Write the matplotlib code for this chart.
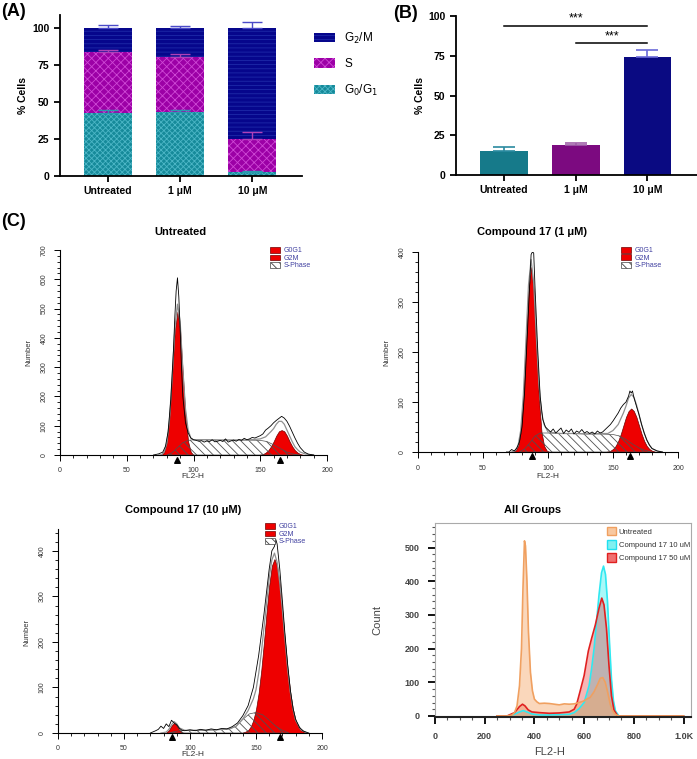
import numpy as np
import matplotlib.pyplot as plt
from matplotlib.patches import Patch
from matplotlib.ticker import MultipleLocator

plt.rcParams['font.family'] = ['Liberation Sans', 'DejaVu Sans']
plt.rcParams['hatch.linewidth'] = 0.6

# ---------------- data ----------------
# (A) cell cycle distribution, stacked %
groups = ['Untreated', '1 μM', '10 μM']
g0g1 = [42.8, 43.5, 2.5]
s_phase = [41.4, 37.1, 22.5]
g2m = [15.8, 19.4, 75.0]
g0g1_err = [1.8, 1.1, 0.7]
s_err = [0.9, 1.8, 4.5]
g2m_err = [2.5, 1.4, 4.5]

# (B) G2/M %
b_vals = [15.3, 19.1, 74.2]
b_err = [2.3, 1.2, 4.4]

# (C) ModFit histograms - Untreated
ut_data_x = [70, 74, 77, 79, 81, 83, 85, 86, 87, 88, 89, 90, 91, 92, 94, 96, 98, 100] + list(range(102, 181, 2)) + [183, 186, 190]
ut_data_y = [0, 4, 10, 30, 80, 190, 360, 470, 560, 605, 540, 430, 300, 200, 110, 75, 58, 52,
             50, 47, 49, 44, 48, 46, 52, 45, 47, 50, 46, 55, 44, 48, 51, 47, 53, 50, 57, 52,
             55, 60, 58, 62, 66, 72, 85, 92, 100, 110, 118, 125, 132, 126, 115, 98, 78, 58, 40, 25,
             10, 3, 0]
ut_fit_x = [74, 76, 78, 80, 82, 84, 86, 88, 90, 92, 94, 96, 98, 100, 110, 120, 130, 140, 150, 154, 158,
            160, 162, 164, 166, 168, 170, 172, 174, 176, 178, 180, 184, 190]
ut_fit_y = [0, 1, 10, 40, 120, 265, 430, 515, 455, 295, 158, 85, 58, 52, 52, 51, 51, 51, 55, 62, 80,
            90, 105, 115, 115, 105, 85, 65, 45, 28, 18, 10, 3, 0]
ut_g1_x = np.arange(76, 101, 2)
ut_g1_y = [0, 10, 45, 130, 275, 425, 490, 425, 275, 130, 45, 10, 0]
ut_g2_x = np.arange(146, 187, 2)
ut_g2_y = [0, 0, 1, 3, 8, 16, 29, 46, 66, 81, 85, 81, 66, 46, 29, 16, 8, 3, 1, 0, 0]
ut_s_x = [80, 84, 88, 92, 96, 100, 110, 120, 130, 140, 150, 155, 160, 165, 170, 175, 180]
ut_s_y = [0, 8, 25, 42, 50, 52, 52, 51, 51, 51, 50, 46, 35, 22, 10, 3, 0]
ut_marks = [88, 165]

# Compound 17 (1 uM)
c1_data_x = [68, 70, 72, 74, 76, 78, 80, 82, 84, 86, 87, 88, 89, 90, 92, 94, 96, 98, 100] + list(range(102, 161, 2)) + \
            [162, 163, 164, 165, 166, 168, 170, 172, 174, 176, 178, 180, 184, 188]
c1_data_y = [0, 0, 5, 2, 8, 20, 50, 120, 230, 340, 395, 400, 398, 330, 210, 110, 65, 50, 45,
             40, 46, 38, 43, 48, 37, 44, 40, 46, 36, 42, 39, 45, 38, 41, 37, 40, 36, 42, 38,
             40, 45, 50, 55, 62, 70, 78, 88, 95, 100,
             112, 122, 118, 122, 110, 92, 75, 55, 38, 24, 14, 7, 2, 0]
c1_fit_x = [72, 75, 77, 79, 81, 83, 85, 87, 89, 91, 93, 95, 97, 100, 110, 120, 130, 140, 146, 150, 154, 158,
            160, 162, 164, 166, 168, 170, 172, 174, 176, 178, 180, 184, 188]
c1_fit_y = [0, 3, 13, 43, 113, 222, 334, 385, 338, 232, 137, 80, 55, 40, 37, 37, 36, 37, 37, 43, 55, 78,
            92, 108, 115, 110, 95, 75, 55, 38, 24, 14, 7, 2, 0]
c1_g1_x = np.arange(73, 102, 2)
c1_g1_y = [0, 3, 12, 40, 107, 213, 322, 370, 322, 213, 107, 40, 12, 3, 0]
c1_g2_x = np.arange(144, 187, 2)
c1_g2_y = [0, 1, 2.5, 6, 12, 22, 36, 53, 70, 82, 87, 82, 70, 53, 36, 22, 12, 6, 2.5, 1, 0, 0]
c1_s_x = [78, 82, 86, 90, 94, 100, 110, 120, 130, 140, 150, 155, 160, 165, 170, 175, 180]
c1_s_y = [0, 6, 18, 32, 38, 38, 37, 37, 36, 36, 35, 32, 25, 16, 8, 3, 0]
c1_marks = [88, 163]

# Compound 17 (10 uM)
c10_data_x = [70, 74, 76, 78, 80, 82, 84, 86, 88, 90, 92, 94, 96, 100, 104, 108, 112, 116, 120, 124, 128, 132,
              136, 140, 144, 148, 152, 154, 156, 158, 160, 162, 164, 165, 166, 168, 170, 172, 174, 176, 178,
              180, 183, 186, 190]
c10_data_y = [0, 5, 8, 15, 10, 20, 14, 28, 22, 18, 10, 6, 5, 7, 5, 8, 6, 9, 7, 10, 9, 14,
              22, 38, 60, 100, 170, 215, 260, 310, 360, 400, 410, 425, 415, 360, 290, 215, 150, 95, 55,
              30, 12, 4, 0]
c10_fit_x = [78, 82, 84, 86, 88, 90, 92, 96, 100, 110, 120, 130, 135, 140, 144, 148, 150, 152, 154, 156, 158,
             160, 162, 164, 166, 168, 170, 172, 174, 176, 178, 180, 184, 188]
c10_fit_y = [0, 2, 8, 18, 25, 20, 11, 6, 6, 6, 7, 9, 15, 31, 49, 75, 95, 130, 175, 230, 285,
             340, 380, 395, 375, 330, 270, 205, 140, 90, 53, 28, 7, 1]
c10_g1_x = np.arange(80, 97, 2)
c10_g1_y = [0, 1, 6, 16, 22, 16, 6, 1, 0]
c10_g2_x = np.arange(140, 189, 2)
c10_g2_y = [1, 3, 6, 14, 28, 52, 88, 138, 199, 265, 324, 367, 382, 367, 324, 265, 199, 138, 88, 52, 28, 14, 6, 3, 1]
c10_s_x = [84, 88, 92, 100, 110, 120, 130, 135, 140, 145, 150, 155, 160, 165, 170, 175]
c10_s_y = [0, 3, 5, 6, 6, 7, 9, 15, 30, 42, 45, 40, 28, 15, 6, 0]
c10_marks = [86, 168]

# All groups overlay
ag_untreated_x = [250, 290, 310, 320, 330, 340, 348, 354, 360, 364, 370, 376, 384, 392, 400, 410, 420, 440, 460,
                  480, 500, 520, 540, 560, 580, 597, 610, 624, 640, 655, 665, 675, 685, 695, 705, 715, 725, 740, 1000]
ag_untreated_y = [0, 0, 3, 10, 30, 90, 200, 380, 520, 505, 400, 250, 130, 75, 50, 42, 37, 38, 37,
                  35, 33, 36, 35, 36, 40, 44, 50, 55, 72, 95, 112, 114, 100, 70, 35, 15, 5, 0, 0]
ag_c10_x = [250, 290, 320, 340, 355, 370, 390, 420, 460, 500, 540, 560, 580, 600, 620, 630, 640, 650, 660,
            670, 678, 686, 694, 702, 710, 718, 726, 740, 1000]
ag_c10_y = [0, 0, 5, 12, 16, 12, 6, 3, 3, 4, 5, 10, 22, 40, 90, 140, 200, 280, 360,
            425, 445, 420, 340, 220, 110, 45, 15, 0, 0]
ag_c50_x = [250, 290, 320, 340, 352, 362, 375, 390, 420, 460, 500, 540, 560, 570, 584, 600, 617, 630, 645,
            660, 671, 680, 690, 700, 710, 720, 735, 1000]
ag_c50_y = [0, 0, 10, 28, 35, 30, 18, 12, 10, 8, 9, 12, 20, 35, 74, 120, 193, 230, 270,
            320, 350, 330, 260, 150, 60, 18, 0, 0]

# ---------------- layout helpers ----------------
W, H = 697, 759
fig = plt.figure(figsize=(W / 100, H / 100), dpi=100)


def px_axes(left, top, right, bottom):
    return fig.add_axes([left / W, 1 - bottom / H, (right - left) / W, (bottom - top) / H])


def ftxt(x, y, s, **kw):
    kw.setdefault('ha', 'center')
    kw.setdefault('va', 'center')
    fig.text(x / W, 1 - y / H, s, **kw)


def prism_axes(ax):
    for sp in ['top', 'right']:
        ax.spines[sp].set_visible(False)
    for sp in ['left', 'bottom']:
        ax.spines[sp].set_linewidth(1.3)
    ax.tick_params(width=1.3, length=4, labelsize=7.5)
    for lab in ax.get_xticklabels() + ax.get_yticklabels():
        lab.set_fontweight('bold')


# ---------------- (A) ----------------
x = np.arange(3)
bw = 0.667
axa = px_axes(60, 15, 302, 176)
b1 = axa.bar(x, g0g1, bw, facecolor='#168a9a', edgecolor='#4cb6c6', hatch='xxxxxx', linewidth=0, label='G$_0$/G$_1$')
b2 = axa.bar(x, s_phase, bw, bottom=g0g1, facecolor='#9c00a6', edgecolor='#cf48d6', hatch='xxxx', linewidth=0, label='S')
s_top = np.add(g0g1, s_phase)
b3 = axa.bar(x, g2m, bw, bottom=s_top, facecolor='#06068c', edgecolor='#1e2aa8', hatch='----', linewidth=0, label='G$_2$/M')
axa.errorbar(x, g0g1, yerr=[[0] * 3, g0g1_err], fmt='none', ecolor='#2a9aae', capsize=7, elinewidth=1, capthick=1)
axa.errorbar(x, s_top, yerr=[[0] * 3, s_err], fmt='none', ecolor='#b040b8', capsize=7, elinewidth=1, capthick=1)
axa.errorbar(x, s_top + np.array(g2m), yerr=[[0] * 3, g2m_err], fmt='none', ecolor='#4a4ac8', capsize=7,
             elinewidth=1, capthick=1)
axa.set_xlim(-0.667, 2.69)
axa.set_ylim(0, 109)
axa.set_yticks([0, 25, 50, 75, 100])
axa.set_xticks(x, groups)
prism_axes(axa)
ftxt(23, 96, '% Cells', rotation=90, fontsize=7.5, fontweight='bold')
fig.legend(handles=[b3, b2, b1], loc='upper left', bbox_to_anchor=(303 / W, 1 - 20 / H), frameon=False,
           fontsize=8.5, handlelength=1.8, handleheight=0.9, labelspacing=1.05, handletextpad=0.8)
ftxt(1, 11, '(A)', ha='left', fontsize=13, fontweight='bold')

# ---------------- (B) ----------------
axb = px_axes(456, 16, 697, 175)
b_colors = ['#167a8a', '#7c0a80', '#0a0a82']
b_ecolors = ['#2a8aa0', '#a060a8', '#6a6ad8']
axb.bar(x, b_vals, bw, color=b_colors)
for i in range(3):
    axb.errorbar(x[i], b_vals[i], yerr=[[0], [b_err[i]]], fmt='none', ecolor=b_ecolors[i], capsize=8,
                 elinewidth=1.2, capthick=1.2)
axb.plot([0, 2], [94, 94], color='black', lw=1.1, clip_on=False)
axb.plot([1, 2], [83, 83], color='black', lw=1.1, clip_on=False)
axb.text(1, 94.5, '***', ha='center', va='bottom', fontsize=9)
axb.text(1.5, 83.5, '***', ha='center', va='bottom', fontsize=9)
axb.set_xlim(-0.667, 2.69)
axb.set_ylim(0, 100)
axb.set_yticks([0, 25, 50, 75, 100])
axb.set_xticks(x, groups)
prism_axes(axb)
ftxt(420, 96, '% Cells', rotation=90, fontsize=7.5, fontweight='bold')
ftxt(393, 13, '(B)', ha='left', fontsize=13, fontweight='bold')

ftxt(1, 222, '(C)', ha='left', fontsize=13, fontweight='bold')


# ---------------- (C) ModFit panels ----------------
def modfit(ax, ymax, data_x, data_y, fit_x, fit_y, g1_x, g1_y, g2_x, g2_y, s_x, s_y, marks, leg_x, leg_y):
    red = '#ee0000'
    ax.fill_between(g1_x, g1_y, facecolor=red, edgecolor='#700000', linewidth=0.5, zorder=2)
    ax.fill_between(g2_x, g2_y, facecolor=red, edgecolor='#700000', linewidth=0.5, zorder=2)
    ax.fill_between(s_x, s_y, facecolor='none', edgecolor='#505050', hatch='\\\\\\\\', linewidth=0.5, zorder=3)
    ax.plot(fit_x, fit_y, color='#909090', lw=0.9, zorder=4)
    ax.plot(data_x, data_y, color='black', lw=0.6, zorder=5)
    ax.scatter(marks, [-ymax * 0.022] * 2, marker='^', color='black', s=16, clip_on=False, zorder=6)
    ax.set_xlim(0, 200)
    ax.set_ylim(0, ymax)
    ax.xaxis.set_major_locator(MultipleLocator(50))
    ax.xaxis.set_minor_locator(MultipleLocator(10))
    ax.yaxis.set_major_locator(MultipleLocator(100))
    ax.yaxis.set_minor_locator(MultipleLocator(20))
    for sp in ['top', 'right']:
        ax.spines[sp].set_visible(False)
    for sp in ['left', 'bottom']:
        ax.spines[sp].set_linewidth(0.8)
    ax.tick_params(which='major', length=4, width=0.7, labelsize=5, labelcolor='#333333', pad=5)
    ax.tick_params(which='minor', length=2.5, width=0.6)
    ax.tick_params(axis='y', labelrotation=90)
    for lab in ax.get_yticklabels():
        lab.set_va('center')
    handles = [Patch(facecolor=red, edgecolor='#700000', linewidth=0.5),
               Patch(facecolor=red, edgecolor='#700000', linewidth=0.5),
               Patch(facecolor='white', edgecolor='#404040', hatch='\\\\\\\\', linewidth=0.5)]
    leg = ax.legend(handles, ['G0G1', 'G2M', 'S-Phase'], loc='upper left', bbox_to_anchor=(leg_x, leg_y),
                    frameon=False, fontsize=5, handlelength=1.5, handleheight=0.9, labelspacing=0.05,
                    handletextpad=0.5, borderpad=0, borderaxespad=0)
    for t in leg.get_texts():
        t.set_color('#4040a0')


ax1 = px_axes(60, 250, 327, 455)
modfit(ax1, 700, ut_data_x, ut_data_y, ut_fit_x, ut_fit_y, ut_g1_x, ut_g1_y, ut_g2_x, ut_g2_y,
       ut_s_x, ut_s_y, ut_marks, 0.786, 1.015)
ftxt(180, 232, 'Untreated', fontsize=8, fontweight='bold')
ftxt(29, 352, 'Number', rotation=90, fontsize=5.5, color='#333333')
ftxt(193, 477, 'FL2-H', fontsize=6, color='#333333')

ax2 = px_axes(418, 252, 678, 452)
modfit(ax2, 400, c1_data_x, c1_data_y, c1_fit_x, c1_fit_y, c1_g1_x, c1_g1_y, c1_g2_x, c1_g2_y,
       c1_s_x, c1_s_y, c1_marks, 0.78, 1.026)
ftxt(532, 232, 'Compound 17 (1 μM)', fontsize=8, fontweight='bold')
ftxt(387, 352, 'Number', rotation=90, fontsize=5.5, color='#333333')
ftxt(548, 477, 'FL2-H', fontsize=6, color='#333333')

ax3 = px_axes(58, 529, 322, 733)
modfit(ax3, 448, c10_data_x, c10_data_y, c10_fit_x, c10_fit_y, c10_g1_x, c10_g1_y, c10_g2_x, c10_g2_y,
       c10_s_x, c10_s_y, c10_marks, 0.784, 1.03)
ftxt(183, 510, 'Compound 17 (10 μM)', fontsize=8, fontweight='bold')
ftxt(27, 632, 'Number', rotation=90, fontsize=5.5, color='#333333')
ftxt(193, 755, 'FL2-H', fontsize=6, color='#333333')

# ---------------- All groups ----------------
ax4 = px_axes(435, 523, 691, 717)
ax4.fill_between(ag_c10_x, ag_c10_y, color='#40f0f0', alpha=0.45, lw=0)
ax4.plot(ag_c10_x, ag_c10_y, color='#30e8f0', lw=1.2)
ax4.fill_between(ag_c50_x, ag_c50_y, color='#e83030', alpha=0.35, lw=0)
ax4.plot(ag_c50_x, ag_c50_y, color='#e02020', lw=1.2)
ax4.fill_between(ag_untreated_x, ag_untreated_y, color='#f5a868', alpha=0.45, lw=0)
ax4.plot(ag_untreated_x, ag_untreated_y, color='#f0a060', lw=1.2)
ax4.set_xlim(0, 1030)
ax4.set_ylim(-3, 573)
ax4.set_xticks([0, 200, 400, 600, 800, 1000], ['0', '200', '400', '600', '800', '1.0K'])
ax4.xaxis.set_minor_locator(MultipleLocator(50))
ax4.set_yticks([0, 100, 200, 300, 400, 500])
ax4.yaxis.set_minor_locator(MultipleLocator(20))
for sp in ['top', 'right', 'left']:
    ax4.spines[sp].set_color('#aaaaaa')
ax4.spines['bottom'].set_color('#222222')
ax4.spines['bottom'].set_linewidth(1.5)
ax4.tick_params(which='major', length=5, width=1.3, labelsize=6.5, labelcolor='#444444', pad=6)
ax4.tick_params(which='minor', length=2.5, width=0.8, color='#555555')
for lab in ax4.get_xticklabels() + ax4.get_yticklabels():
    lab.set_fontweight('bold')
ag_handles = [Patch(facecolor='#f8c8a0', edgecolor='#f0a060', linewidth=1),
              Patch(facecolor='#80f0f0', edgecolor='#20e0f0', linewidth=1),
              Patch(facecolor='#f07070', edgecolor='#e02020', linewidth=1)]
leg = ax4.legend(ag_handles, ['Untreated', 'Compound 17 10 uM', 'Compound 17 50 uM'], loc='upper left',
                 bbox_to_anchor=(0.67, 0.98), frameon=False, fontsize=5.5, handlelength=1.3, handleheight=1.3,
                 labelspacing=0.6, handletextpad=0.3, borderpad=0, borderaxespad=0)
for t in leg.get_texts():
    t.set_color('#333333')
ftxt(533, 510, 'All Groups', fontsize=8, fontweight='bold')
ftxt(377, 620, 'Count', rotation=90, fontsize=8, color='#444444')
ftxt(550, 752, 'FL2-H', fontsize=8, color='#444444')

fig.savefig('out.png', dpi=100)
